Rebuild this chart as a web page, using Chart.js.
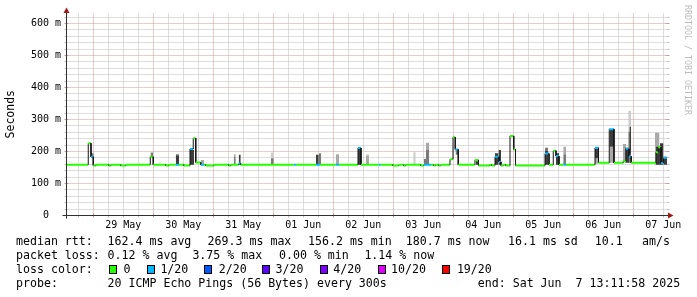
<!DOCTYPE html>
<html>
<head>
<meta charset="utf-8">
<script src="https://cdn.jsdelivr.net/npm/chart.js@4.4.1/dist/chart.umd.min.js"></script>
<style>
  html, body { margin: 0; padding: 0; background: #fff; }
  #wrap { position: relative; width: 697px; height: 297px; overflow: hidden; font-family: "DejaVu Sans Mono", monospace; }
  #chart { position: absolute; left: 0; top: 0; }
  .row { position: absolute; left: 0; width: 697px; height: 14px; font-size: 11.6px; line-height: 14px; color: #000; }
  .row span { position: absolute; top: 0; white-space: pre; }
  .box { position: absolute; top: 265px; width: 6px; height: 7px; border: 1px solid #000; }
  #credit { position: absolute; left: 683px; top: 5px; writing-mode: vertical-rl; font-size: 8.3px; line-height: 9px; color: #bdbdbd; white-space: pre; }
</style>
</head>
<body>
<div id="wrap">
  <canvas id="chart" width="697" height="297"></canvas>
  <div class="row" style="top:234.3px">
    <span style="left:16px">median rtt:</span>
    <span style="left:107.6px">162.4 ms avg</span>
    <span style="left:207.6px">269.3 ms max</span>
    <span style="left:308px">156.2 ms min</span>
    <span style="left:405.8px">180.7 ms now</span>
    <span style="left:508px">16.1 ms sd</span>
    <span style="left:594.7px">10.1</span>
    <span style="left:642px">am/s</span>
  </div>
  <div class="row" style="top:248px">
    <span style="left:16px">packet loss:</span>
    <span style="left:107.6px">0.12 % avg</span>
    <span style="left:192.4px">3.75 % max</span>
    <span style="left:279px">0.00 % min</span>
    <span style="left:364.4px">1.14 % now</span>
  </div>
  <div class="row" id="lossRow" style="top:262.3px">
    <span style="left:16px">loss color:</span>
  </div>
  <div class="row" style="top:276.3px">
    <span style="left:16px">probe:</span>
    <span style="left:107.6px">20 ICMP Echo Pings (56 Bytes) every 300s</span>
    <span style="left:477.8px">end: Sat Jun  7 13:11:58 2025</span>
  </div>
  <div id="credit">RRDTOOL / TOBI OETIKER</div>
</div>
<script>
// time is in hours since 28 May 00:00
const xLabelTimes = [36, 60, 84, 108, 132, 156, 180, 204, 228, 252];
const xLabels = ['29 May', '30 May', '31 May', '01 Jun', '02 Jun', '03 Jun', '04 Jun', '05 Jun', '06 Jun', '07 Jun'];
const yTickValues = [0, 100, 200, 300, 400, 500, 600];
const yTickLabels = ['0', '100 m', '200 m', '300 m', '400 m', '500 m', '600 m'];

// loss colour legend
const lossLabels = ['0', '1/20', '2/20', '3/20', '4/20', '10/20', '19/20'];
const lossSteps = [0, 1, 2, 3, 4, 10, 19];
const lossColors = ['#26ff00', '#00b8ff', '#0059ff', '#5e00ff', '#7e00ff', '#dd00ff', '#ff0000'];

// median rtt as steps: start hour, value (ms), lost pings of 20
const medianStart = [13.5, 22.0, 23.1, 24.0, 25.1, 30.3, 31.1, 35.1, 37.1, 46.8,
  48.0, 53.1, 54.3, 57.0, 58.3, 60.3, 62.7, 64.0, 65.0, 67.0,
  68.3, 69.1, 72.3, 78.3, 79.1, 82.2, 83.0, 104.2, 105.1, 113.1,
  114.7, 121.0, 122.3, 129.9, 131.1, 138.2, 139.0, 143.9, 146.3, 148.3,
  149.1, 155.1, 156.3, 159.1, 160.2, 161.0, 162.2, 163.0, 166.7, 167.9,
  168.8, 170.0, 176.7, 178.1, 182.7, 183.4, 184.7, 186.3, 187.1, 188.0,
  189.1, 190.7, 192.2, 192.9, 204.7, 206.3, 208.0, 209.1, 210.3, 212.0,
  213.1, 224.7, 226.1, 230.4, 232.3, 236.0, 237.1, 238.3, 239.2, 249.1,
  250.0, 251.1, 252.1];
const medianRtt = [157, 224, 182, 154.5, 157, 154.5, 157, 154.5, 157, 182,
  157, 154.5, 157, 157, 157, 154.5, 206, 240, 164, 157,
  157, 154.5, 157, 154.5, 157, 161, 157, 157, 157, 157,
  157, 157, 157, 209, 157, 157, 157, 154.5, 157, 154.5,
  157, 154.5, 157, 157, 154.5, 157, 154.5, 157, 174, 243,
  205, 157, 172, 154.5, 157, 154.5, 182, 166, 154.5, 157,
  154.5, 247, 205, 154.5, 192, 157, 201, 184, 157, 157,
  157, 210, 163, 268, 163, 168, 207, 183, 163, 196,
  212, 162, 179];
const medianLoss = [0, 0, 1, 0, 0, 0, 0, 0, 0, 0,
  0, 0, 0, 1, 0, 0, 1, 0, 0, 1,
  0, 0, 0, 0, 0, 1, 0, 1, 0, 1,
  0, 1, 0, 1, 0, 1, 0, 0, 0, 0,
  0, 0, 1, 0, 0, 0, 0, 0, 0, 0,
  1, 0, 0, 0, 0, 0, 1, 1, 0, 0,
  0, 0, 0, 0, 1, 0, 0, 1, 0, 1,
  0, 1, 0, 1, 0, 0, 1, 1, 0, 0,
  0, 1, 1];

// smoke (ping spread) boxes
const smokeStart = [23.1, 46.9, 57.0, 57.0, 62.7, 67.0, 80.2, 80.2, 82.2, 95.0,
  95.0, 113.1, 114.2, 121.0, 129.9, 133.1, 133.1, 152.0, 156.3, 157.1,
  157.1, 168.9, 177.1, 184.7, 186.1, 204.7, 204.7, 209.1, 212.0, 212.0,
  224.7, 224.7, 230.5, 230.5, 235.9, 236.8, 238.0, 238.0, 238.5, 248.7,
  249.1, 250.7, 252.1];
const smokeEnd = [24.2, 48.0, 58.3, 58.3, 64.3, 68.3, 81.0, 81.0, 83.0, 96.2,
  96.2, 114.2, 115.1, 122.3, 131.1, 134.3, 134.3, 153.0, 157.1, 158.4,
  158.4, 170.0, 178.1, 186.1, 187.1, 206.0, 206.0, 210.3, 213.1, 213.1,
  225.9, 225.9, 232.3, 232.3, 237.1, 238.3, 239.1, 239.1, 239.1, 250.5,
  250.7, 252.1, 253.5];
const smokeLow = [180, 180, 157, 187, 157, 157, 157, 182, 157, 157,
  177, 157, 157, 157, 157, 157, 184, 157, 157, 157,
  205, 188, 157, 157, 157, 157, 200, 157, 157, 190,
  160, 177, 163, 213, 165, 163, 163, 260, 190, 157,
  157, 157, 157];
const smokeHigh = [193, 195, 187, 190, 203, 172, 182, 190, 188, 177,
  195, 188, 193, 190, 207, 184, 190, 196, 175, 205,
  226, 205, 168, 193, 203, 200, 210, 193, 190, 213,
  177, 208, 213, 266, 222, 210, 260, 326, 276, 257,
  213, 224, 182];
const smokeShade = ['mid', 'mid', 'dark', 'mid', 'dark', 'light', 'mid', 'light', 'dark', 'mid',
  'pale', 'dark', 'mid', 'light', 'dark', 'light', 'pale', 'pale', 'mid', 'mid',
  'light', 'mid', 'dark', 'dark', 'dark', 'dark', 'mid', 'dark', 'mid', 'light',
  'light', 'dark', 'light', 'dark', 'light', 'dark', 'mid', 'pale', 'dark', 'light',
  'dark', 'dark', 'dark'];

const xMin = 13.5, xMax = 253.5;
const MONO = '"DejaVu Sans Mono", monospace';
const GRID = '#bdbdbd', MGRID = '#d39a9a';
const shadeColors = { dark: '#3c3c3c', mid: '#7a7a7a', light: '#a9a9a9', pale: '#cdcdcd' };
const shadeOrder = { dark: 1, mid: 2, light: 3, pale: 4 };

function lossColor(n) {
  let i = lossSteps.findIndex(s => s >= n);
  return lossColors[i < 0 ? lossColors.length - 1 : i];
}

// loss colour legend row
const lossRow = document.getElementById('lossRow');
const boxLeft = [109, 147, 204, 262, 320, 378, 442];
const textLeft = [123.6, 160.4, 218.7, 275.6, 333.3, 391, 456.9];
lossLabels.forEach((lab, i) => {
  const b = document.createElement('div');
  b.className = 'box';
  b.style.left = boxLeft[i] + 'px';
  b.style.background = lossColors[i];
  document.getElementById('wrap').appendChild(b);
  const s = document.createElement('span');
  s.style.left = textLeft[i] + 'px';
  s.textContent = lab;
  lossRow.appendChild(s);
});

// median line: one horizontal piece per step, joined by thin dark verticals
const medianPoints = [];
medianStart.forEach((t, i) => {
  const end = i + 1 < medianStart.length ? medianStart[i + 1] : xMax;
  medianPoints.push({ x: t, y: medianRtt[i] }, { x: end, y: medianRtt[i] });
});

const datasets = [{
  data: medianPoints,
  order: 0,
  borderColor: lossColors[0],
  borderWidth: 2,
  borderCapStyle: 'butt',
  pointRadius: 0,
  fill: false,
  tension: 0,
  segment: {
    borderColor: c => c.p0DataIndex % 2 === 0 ? lossColor(medianLoss[c.p0DataIndex >> 1]) : '#151515',
    borderWidth: c => c.p0DataIndex % 2 === 0 ? 2 : 1
  }
}];

smokeStart.forEach((t0, i) => {
  datasets.push({
    data: [{ x: t0, y: smokeHigh[i] }, { x: smokeEnd[i], y: smokeHigh[i] }],
    order: shadeOrder[smokeShade[i]],
    fill: { target: { value: smokeLow[i] } },
    backgroundColor: shadeColors[smokeShade[i]],
    borderColor: 'rgba(0,0,0,0)',
    borderWidth: 0,
    pointRadius: 0
  });
});

function seg(ctx, x1, y1, x2, y2) {
  ctx.beginPath();
  ctx.moveTo(x1, y1);
  ctx.lineTo(x2, y2);
  ctx.stroke();
}

const rrdGrid = {
  id: 'rrdGrid',
  beforeDatasetsDraw(chart) {
    const { ctx, chartArea: a, scales: { x, y } } = chart;
    const L = Math.round(a.left) - 0.5, R = Math.round(a.right) + 0.5;
    const T = Math.round(a.top), B = Math.round(a.bottom) + 0.5;
    ctx.save();
    ctx.lineWidth = 1;
    for (let v = 20; v <= y.max; v += 20) {
      const py = Math.round(y.getPixelForValue(v)) + 0.5;
      const major = v % 100 === 0;
      ctx.strokeStyle = major ? MGRID : GRID;
      ctx.setLineDash([1, 1]);
      seg(ctx, L, py, R + 1, py);
      ctx.setLineDash([]);
      const k = major ? 2 : 0;
      seg(ctx, L - 2, py, L + k, py);
      seg(ctx, R - k, py, R + 2, py);
    }
    for (let h = Math.ceil(x.min / 6) * 6; h <= x.max; h += 6) {
      const px = Math.round(x.getPixelForValue(h)) + 0.5;
      const major = h % 24 === 0;
      ctx.strokeStyle = major ? MGRID : GRID;
      ctx.setLineDash([1, 1]);
      seg(ctx, px, B, px, T);
      ctx.setLineDash([]);
      const k = major ? 2 : 0;
      seg(ctx, px, B - k, px, B + 2);
    }
    ctx.restore();
  },
  afterDatasetsDraw(chart) {
    const { ctx, chartArea: a } = chart;
    const ax = Math.round(a.left) - 0.5, ay = Math.round(a.bottom) + 0.5;
    const right = Math.round(a.right) + 1;
    ctx.save();
    ctx.strokeStyle = '#303030';
    ctx.lineWidth = 1;
    seg(ctx, ax - 4, ay, right, ay);
    seg(ctx, ax, ay + 3, ax, a.top - 3);
    ctx.fillStyle = '#a01818';
    ctx.beginPath();
    ctx.moveTo(ax - 3, a.top - 0.5);
    ctx.lineTo(ax + 3, a.top - 0.5);
    ctx.lineTo(ax, a.top - 6);
    ctx.fill();
    ctx.beginPath();
    ctx.moveTo(right, ay - 3);
    ctx.lineTo(right, ay + 3);
    ctx.lineTo(right + 5.5, ay);
    ctx.fill();
    ctx.restore();
  }
};

new Chart(document.getElementById('chart'), {
  type: 'line',
  data: { datasets: datasets },
  plugins: [rrdGrid],
  options: {
    responsive: false,
    animation: false,
    events: [],
    layout: { padding: { left: 0, right: 30, top: 13.4, bottom: 0 } },
    plugins: { legend: { display: false }, tooltip: { enabled: false } },
    scales: {
      x: {
        type: 'linear',
        min: xMin,
        max: xMax,
        grid: { display: false, drawTicks: false },
        border: { display: false },
        afterBuildTicks: s => { s.ticks = xLabelTimes.map(v => ({ value: v })); },
        afterFit: s => { s.height = 82; },
        ticks: {
          autoSkip: false, maxRotation: 0, padding: 4, color: '#000',
          font: { family: MONO, size: 10 },
          callback: (v, i) => xLabels[i]
        }
      },
      y: {
        type: 'linear',
        min: 0,
        max: 630,
        grid: { display: false, drawTicks: false },
        border: { display: false },
        afterBuildTicks: s => { s.ticks = yTickValues.map(v => ({ value: v })); },
        afterFit: s => { s.width = 67; },
        ticks: {
          padding: 6, color: '#000',
          font: { family: MONO, size: 10 },
          callback: (v, i) => yTickLabels[i].padStart(3).padEnd(5)
        },
        title: {
          display: true, text: 'Seconds', color: '#000',
          font: { family: MONO, size: 11.5 },
          padding: { top: 4, bottom: 0 }
        }
      }
    }
  }
});
</script>
</body>
</html>
